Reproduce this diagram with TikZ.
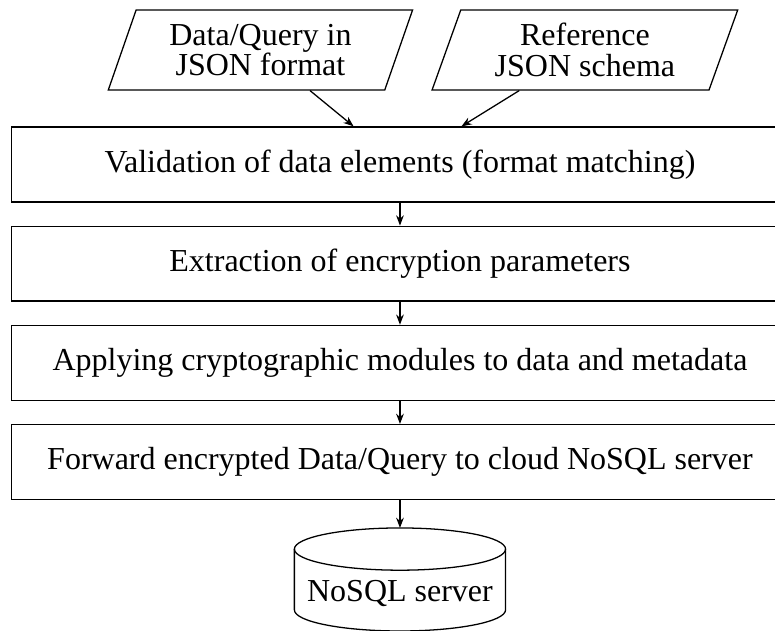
\documentclass[tikz,border=0pt]{standalone}
\usepackage{fontspec}
\setmainfont{Liberation Serif}
\usepackage{tikz}
\usetikzlibrary{arrows.meta, positioning, shapes.geometric, calc}

\begin{document}
\begin{tikzpicture}[
	x=1pt, y=1pt,
	procbox/.style={draw, rectangle, minimum width=243pt, minimum height=23.4pt, inner sep=0pt},
	iobox/.style={draw, trapezium, trapezium left angle=70, trapezium right angle=110, trapezium stretches=true, minimum width=95.6pt, minimum height=25pt, align=center, inner sep=1pt},
	flow/.style={-{Stealth[length=3.2pt, width=2.4pt]}},
	node distance=7.2pt
]
	\useasboundingbox (0,0) rectangle (242.2,-197.2);

	\node[iobox] (query) at (81.4,-15.6) {Data/Query in\\[-2.6pt]JSON format};
	\node[iobox] (schema) at (182.8,-15.6) {Reference\\[-2.6pt]JSON schema};

	\node[procbox] (validate) at (125,-51.4) {Validation of data elements (format matching)};
	\node[procbox, below=of validate] (extract) {Extraction of encryption parameters};
	\node[procbox, below=of extract] (crypto) {Applying cryptographic modules to data and metadata};
	\node[procbox, below=of crypto] (forward) {Forward encrypted Data/Query to cloud NoSQL server};

	% database
	\coordinate (dbtop) at (125,-171.6);
	\coordinate (dbbot) at (125,-190.6);
	\coordinate (dbin) at ($ (dbtop)+(0,6.6) $);
	\draw (dbtop) ellipse (33pt and 6.6pt);
	\draw ($ (dbtop)+(-33,0) $) -- ($ (dbbot)+(-33,0) $) arc (180:360:33pt and 6.6pt) -- ($ (dbtop)+(33,0) $);
	\node[anchor=base] (server) at (125,-188.1) {NoSQL server};

	\draw[flow] (query) -- (validate);
	\draw[flow] (schema) -- (validate);
	\draw[flow] (validate) -- (extract);
	\draw[flow] (extract) -- (crypto);
	\draw[flow] (crypto) -- (forward);
	\draw[flow] (forward) -- (dbin);

\end{tikzpicture}
\end{document}
